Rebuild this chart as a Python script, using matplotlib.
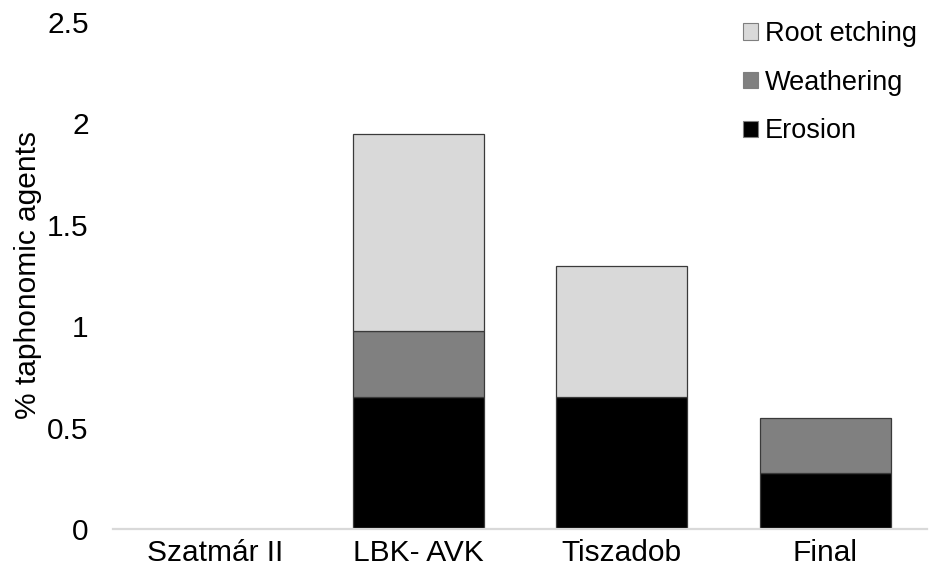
import matplotlib
matplotlib.use("Agg")
import matplotlib.pyplot as plt
from matplotlib.patches import Patch
import numpy as np

plt.rcParams['font.family'] = ['Liberation Sans', 'DejaVu Sans']

sites = ["Szatmár II", "LBK- AVK", "Tiszadob", "Final"]
erosion = [0.0, 0.65, 0.65, 0.275]
weathering = [0.0, 0.325, 0.0, 0.275]
root_etching = [0.0, 0.975, 0.65, 0.0]
y_ticks = [0, 0.5, 1, 1.5, 2, 2.5]
y_tick_labels = ["0", "0.5", "1", "1.5", "2", "2.5"]

colors = {"Erosion": "#000000", "Weathering": "#808080", "Root etching": "#D9D9D9"}
FS = 21.5

fig = plt.figure(figsize=(9.32, 5.8), dpi=100)
ax = fig.add_axes([113 / 932, 50.7 / 580, 814 / 932, 507.3 / 580])

x = np.arange(len(sites))
w = 0.644
edge = dict(edgecolor="#3a3a3a", linewidth=0.9)
bottom = np.zeros(len(sites))
for name, vals in (("Erosion", erosion), ("Weathering", weathering), ("Root etching", root_etching)):
    bars = ax.bar(x, vals, w, bottom=bottom, color=colors[name], **edge)
    # zero-height segments leave no outline
    for r, v in zip(bars, vals):
        if v == 0:
            r.set_visible(False)
    bottom += np.array(vals)

ax.set_xlim(-0.5, 3.5)
ax.set_ylim(0, 2.5)
ax.set_yticks(y_ticks)
ax.set_yticklabels(y_tick_labels)
ax.set_xticks(x)
ax.set_xticklabels(sites)
ax.tick_params(axis="both", length=0, labelsize=FS, colors="#000000")
ax.tick_params(axis="y", pad=17.5)
ax.tick_params(axis="x", pad=7)

for s in ("left", "right", "top"):
    ax.spines[s].set_visible(False)
ax.spines["bottom"].set_color("#D9D9D9")
ax.spines["bottom"].set_linewidth(1.6)

fig.text(28 / 932, 1 - 275 / 580, "% taphonomic agents", rotation=90,
         ha="center", va="center", fontsize=FS)

order = ["Root etching", "Weathering", "Erosion"]
handles = [Patch(facecolor=colors[n], edgecolor="#7f7f7f", linewidth=0.8) for n in order]
fig.legend(handles, order, loc="upper left", bbox_to_anchor=(743 / 932, 1 - 21 / 580),
           frameon=False, fontsize=19.5, handlelength=0.55, handleheight=0.55,
           handletextpad=0.25, labelspacing=0.84, borderaxespad=0, borderpad=0)

fig.savefig("out.png", dpi=100, facecolor="white")
